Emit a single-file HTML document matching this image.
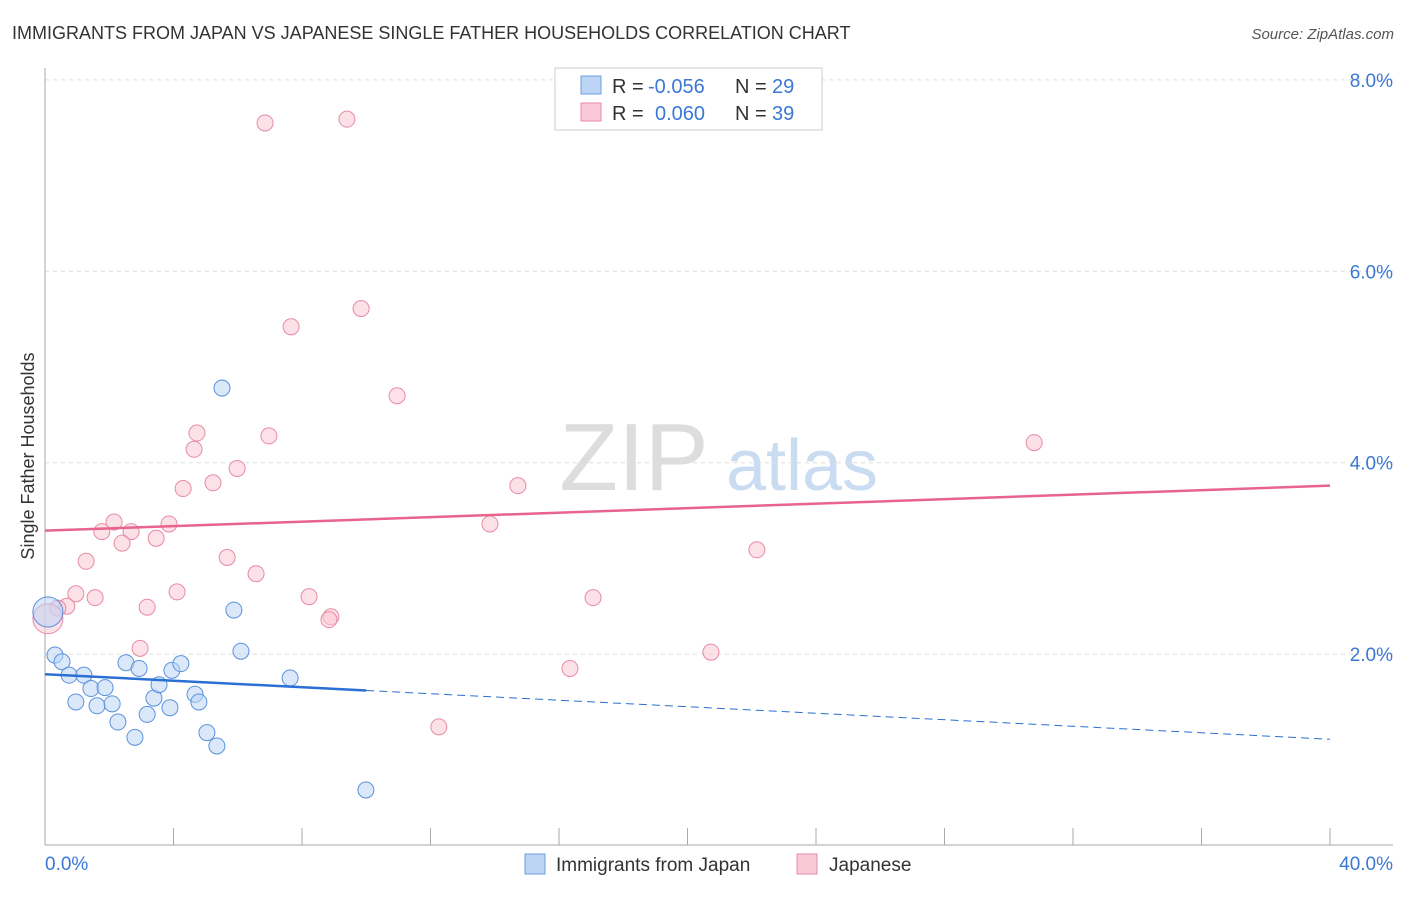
<!DOCTYPE html>
<html><head><meta charset="utf-8"><style>
body{margin:0;background:#fff;font-family:"Liberation Sans",sans-serif}
svg text{font-family:"Liberation Sans",sans-serif}
</style></head><body>
<svg id="chart" width="1406" height="892" xmlns="http://www.w3.org/2000/svg">
<text x="12" y="39" font-size="18" fill="#333">IMMIGRANTS FROM JAPAN VS JAPANESE SINGLE FATHER HOUSEHOLDS CORRELATION CHART</text>
<text x="1394" y="39" font-size="15" fill="#555" text-anchor="end" font-style="italic">Source: ZipAtlas.com</text>
<text transform="translate(34,456) rotate(-90)" font-size="18" fill="#333" text-anchor="middle">Single Father Households</text>
<g><text x="634" y="490" font-size="96" fill="#ddd" text-anchor="middle" font-family="Liberation Serif,serif">ZIP</text><text x="802" y="490" font-size="72" fill="#c9dcf2" text-anchor="middle">atlas</text></g>
<g id="grid"></g><g id="axes"></g><g id="marks"></g>
<g>
<rect x="555" y="68" width="267" height="62" fill="#fff" stroke="#ccc"/>
<rect x="581" y="76" width="20" height="18" fill="#bcd5f5" stroke="#6a9fe0"/>
<text x="612" y="93" font-size="20" fill="#333">R = </text><text x="648" y="93" font-size="20" fill="#3a78d4">-0.056</text>
<text x="735" y="93" font-size="20" fill="#333">N = </text><text x="772" y="93" font-size="20" fill="#3a78d4">29</text>
<rect x="581" y="103" width="20" height="18" fill="#f9c9d7" stroke="#e88aa5"/>
<text x="612" y="120" font-size="20" fill="#333">R = </text><text x="655" y="120" font-size="20" fill="#3a78d4">0.060</text>
<text x="735" y="120" font-size="20" fill="#333">N = </text><text x="772" y="120" font-size="20" fill="#3a78d4">39</text>
</g>
<g>
<rect x="525" y="854" width="20" height="20" fill="#bcd5f5" stroke="#6a9fe0"/>
<text x="556" y="871" font-size="19" fill="#333">Immigrants from Japan</text>
<rect x="797" y="854" width="20" height="20" fill="#f9c9d7" stroke="#e88aa5"/>
<text x="829" y="871" font-size="19" fill="#333">Japanese</text>
</g>
</svg>
<script>
const yTicks=[2,4,6,8];
const xTickLabels=["0.0%","40.0%"];
const blueX=[0.31,0.53,0.75,1.21,1.43,1.87,0.96,1.62,2.09,2.27,2.52,2.93,2.80,3.18,3.39,3.55,3.89,3.95,4.23,4.67,4.79,5.04,5.35,5.51,5.88,6.10,7.63,9.99,0.09];
const blueY=[1.99,1.92,1.78,1.78,1.64,1.65,1.50,1.46,1.48,1.29,1.91,1.85,1.13,1.37,1.54,1.68,1.44,1.83,1.90,1.58,1.50,1.18,1.04,4.78,2.46,2.03,1.75,0.58,2.44];
const pinkX=[6.85,9.40,9.84,7.66,10.96,30.79,4.73,4.64,6.97,5.98,4.30,5.23,14.72,2.15,1.77,2.68,3.86,3.46,2.40,13.85,22.16,1.28,5.67,6.57,0.96,4.11,1.56,0.68,3.18,8.22,17.06,8.90,8.84,2.96,16.34,20.73,12.26,0.40,0.09];
const pinkY=[7.55,7.59,5.61,5.42,4.70,4.21,4.31,4.14,4.28,3.94,3.73,3.79,3.76,3.38,3.28,3.28,3.36,3.21,3.16,3.36,3.09,2.97,3.01,2.84,2.63,2.65,2.59,2.50,2.49,2.60,2.59,2.39,2.36,2.06,1.85,2.02,1.24,2.48,2.37];
const blueTrend=[1.79,1.11];
const pinkTrend=[3.29,3.76];
const xs=v=>45+v/40*1285, ys=v=>845.5-v*95.7;
const NS="http://www.w3.org/2000/svg";
function mk(p,t,a){const e=document.createElementNS(NS,t);for(const k in a)e.setAttribute(k,a[k]);p.appendChild(e);return e;}
const grid=document.getElementById('grid'),axes=document.getElementById('axes'),marks=document.getElementById('marks');
yTicks.forEach(v=>{
 const l=mk(grid,'line',{x1:45,x2:1393,y1:ys(v),y2:ys(v),stroke:'#ddd','stroke-dasharray':'4,4'});
 
 
 const t=mk(axes,'text',{x:1393,y:ys(v)+7,'font-size':19,fill:'#3a78d4','text-anchor':'end'});
 t.textContent=v.toFixed(1)+'%';
 
 
});
mk(axes,'line',{x1:45,x2:45,y1:68,y2:845,stroke:'#aaa'});
mk(axes,'line',{x1:45,x2:1393,y1:845,y2:845,stroke:'#aaa'});
for(let i=0;i<=10;i++){const x=xs(i*4);const t=mk(axes,'line',{x1:x,x2:x,y1:828,y2:845,stroke:'#aaa'});
 
 }
[[0,'start',45],[1,'end',1393]].forEach(([i,a,x])=>{const t=mk(axes,'text',{x:x,y:870,'font-size':19,fill:'#3a78d4','text-anchor':a});t.textContent=xTickLabels[i];
 
 });
function dots(X,Y,fill,stroke,name){X.forEach((x,i)=>{const big=i===X.length-1;
 const c=mk(marks,'circle',{cx:xs(x),cy:ys(Y[i]),r:big?15:8,fill:fill,'fill-opacity':0.55,stroke:stroke,'stroke-width':1});
 
 });}
dots(pinkX,pinkY,'#f9c9d7','#e88aa5','japanese-point');
dots(blueX,blueY,'#bcd5f5','#5a92dc','japan-point');
const pl=mk(marks,'line',{x1:xs(0),y1:ys(pinkTrend[0]),x2:xs(40),y2:ys(pinkTrend[1]),stroke:'#e8648c','stroke-width':2.5});


const bAt=v=>blueTrend[0]+(blueTrend[1]-blueTrend[0])*v/40;
const bl=mk(marks,'line',{x1:xs(0),y1:ys(bAt(0)),x2:xs(10),y2:ys(bAt(10)),stroke:'#2a6fd4','stroke-width':2.5});


const bd=mk(marks,'line',{x1:xs(10),y1:ys(bAt(10)),x2:xs(40),y2:ys(bAt(40)),stroke:'#2a6fd4','stroke-width':1,'stroke-dasharray':'8,5'});


</script>
</body></html>
